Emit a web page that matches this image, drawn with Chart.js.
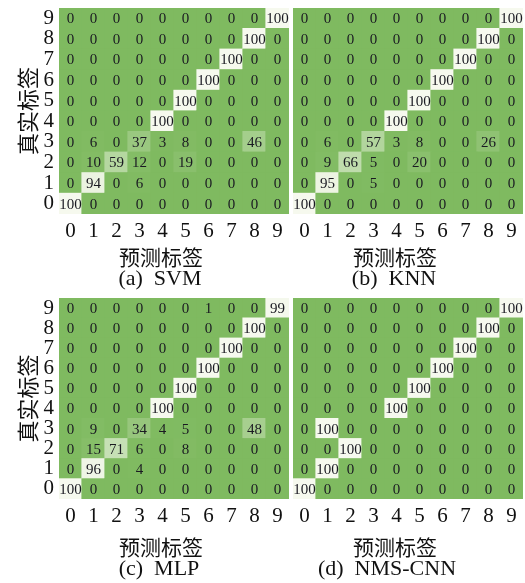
<!DOCTYPE html>
<html>
<head>
<meta charset="utf-8">
<script src="https://cdn.jsdelivr.net/npm/chart.js@4.4.1/dist/chart.umd.min.js"></script>
<style>
    body { margin: 0; background: #fff; }
    #wrap { position: relative; width: 525px; height: 583px; overflow: hidden; }
    canvas { position: absolute; }
    #chartA { left: 0; top: 0; }
    #chartB { left: 290px; top: 0; }
    #chartC { left: 0; top: 290px; }
    #chartD { left: 290px; top: 290px; }
</style>
</head>
<body>
<div id="wrap">
    <canvas id="chartA" width="290" height="290"></canvas>
    <canvas id="chartB" width="235" height="290"></canvas>
    <canvas id="chartC" width="290" height="290"></canvas>
    <canvas id="chartD" width="235" height="290"></canvas>
</div>
<script>
// class labels (true label rows / predicted label columns)
const classLabels = ['0', '1', '2', '3', '4', '5', '6', '7', '8', '9'];

// rows = true label 0..9, columns = predicted label 0..9
const svmMatrix = [
    [100, 0, 0, 0, 0, 0, 0, 0, 0, 0],
    [0, 94, 0, 6, 0, 0, 0, 0, 0, 0],
    [0, 10, 59, 12, 0, 19, 0, 0, 0, 0],
    [0, 6, 0, 37, 3, 8, 0, 0, 46, 0],
    [0, 0, 0, 0, 100, 0, 0, 0, 0, 0],
    [0, 0, 0, 0, 0, 100, 0, 0, 0, 0],
    [0, 0, 0, 0, 0, 0, 100, 0, 0, 0],
    [0, 0, 0, 0, 0, 0, 0, 100, 0, 0],
    [0, 0, 0, 0, 0, 0, 0, 0, 100, 0],
    [0, 0, 0, 0, 0, 0, 0, 0, 0, 100]
];

const knnMatrix = [
    [100, 0, 0, 0, 0, 0, 0, 0, 0, 0],
    [0, 95, 0, 5, 0, 0, 0, 0, 0, 0],
    [0, 9, 66, 5, 0, 20, 0, 0, 0, 0],
    [0, 6, 0, 57, 3, 8, 0, 0, 26, 0],
    [0, 0, 0, 0, 100, 0, 0, 0, 0, 0],
    [0, 0, 0, 0, 0, 100, 0, 0, 0, 0],
    [0, 0, 0, 0, 0, 0, 100, 0, 0, 0],
    [0, 0, 0, 0, 0, 0, 0, 100, 0, 0],
    [0, 0, 0, 0, 0, 0, 0, 0, 100, 0],
    [0, 0, 0, 0, 0, 0, 0, 0, 0, 100]
];

const mlpMatrix = [
    [100, 0, 0, 0, 0, 0, 0, 0, 0, 0],
    [0, 96, 0, 4, 0, 0, 0, 0, 0, 0],
    [0, 15, 71, 6, 0, 8, 0, 0, 0, 0],
    [0, 9, 0, 34, 4, 5, 0, 0, 48, 0],
    [0, 0, 0, 0, 100, 0, 0, 0, 0, 0],
    [0, 0, 0, 0, 0, 100, 0, 0, 0, 0],
    [0, 0, 0, 0, 0, 0, 100, 0, 0, 0],
    [0, 0, 0, 0, 0, 0, 0, 100, 0, 0],
    [0, 0, 0, 0, 0, 0, 0, 0, 100, 0],
    [0, 0, 0, 0, 0, 0, 1, 0, 0, 99]
];

const nmsCnnMatrix = [
    [100, 0, 0, 0, 0, 0, 0, 0, 0, 0],
    [0, 100, 0, 0, 0, 0, 0, 0, 0, 0],
    [0, 0, 100, 0, 0, 0, 0, 0, 0, 0],
    [0, 100, 0, 0, 0, 0, 0, 0, 0, 0],
    [0, 0, 0, 0, 100, 0, 0, 0, 0, 0],
    [0, 0, 0, 0, 0, 100, 0, 0, 0, 0],
    [0, 0, 0, 0, 0, 0, 100, 0, 0, 0],
    [0, 0, 0, 0, 0, 0, 0, 100, 0, 0],
    [0, 0, 0, 0, 0, 0, 0, 0, 100, 0],
    [0, 0, 0, 0, 0, 0, 0, 0, 0, 100]
];

const xTitle = '预测标签';
const yTitle = '真实标签';

const SERIF = '"Liberation Serif", "Times New Roman", serif';
const CJK = '"Noto Sans CJK SC", sans-serif';

// green (0) -> pale cream (100)
const LOW = [127, 186, 96];
const HIGH = [246, 249, 238];
function cellColor(v) {
    const t = Math.pow(v / 100, 1.5);
    const c = LOW.map((lo, i) => Math.round(lo + (HIGH[i] - lo) * t));
    return `rgb(${c[0]}, ${c[1]}, ${c[2]})`;
}

// draws the value inside every cell
const cellTextPlugin = {
    id: 'cellText',
    afterDatasetsDraw(chart, args, opts) {
        const { ctx, scales: { x, y } } = chart;
        ctx.save();
        ctx.font = `15px ${SERIF}`;
        ctx.fillStyle = '#1a1a22';
        ctx.textAlign = 'center';
        ctx.textBaseline = 'middle';
        opts.matrix.forEach((row, r) => {
            row.forEach((v, c) => {
                ctx.fillText(String(v), x.getPixelForValue(c), y.getPixelForValue(r) + 1);
            });
        });
        ctx.restore();
    }
};

// x title + sub-figure caption below the axis
const captionPlugin = {
    id: 'caption',
    afterDraw(chart, args, opts) {
        const { ctx, chartArea } = chart;
        const cx = (chartArea.left + chartArea.right) / 2;
        ctx.save();
        ctx.fillStyle = '#111';
        ctx.textAlign = 'center';
        ctx.textBaseline = 'middle';
        ctx.font = `21px ${CJK}`;
        ctx.fillText(xTitle, cx - 13, 257);
        ctx.font = `22px ${SERIF}`;
        ctx.fillText(opts.text, cx + opts.shift, 279);
        ctx.restore();
    }
};

function buildChart(canvasId, matrix, caption, opts) {
    const datasets = matrix.map((row, r) => ({
        label: classLabels[r],
        data: row.map(() => [r - 0.5, r + 0.5]),
        backgroundColor: (ctx) => cellColor(row[ctx.dataIndex]),
        borderWidth: 0,
        inflateAmount: 0.6,
        barPercentage: 1,
        categoryPercentage: 1,
        grouped: false
    }));

    return new Chart(document.getElementById(canvasId), {
        type: 'bar',
        data: { labels: classLabels, datasets },
        plugins: [cellTextPlugin, captionPlugin],
        options: {
            responsive: false,
            animation: false,
            layout: {
                padding: { left: opts.padLeft, right: opts.padRight, top: opts.padTop, bottom: 0 }
            },
            plugins: {
                legend: { display: false },
                tooltip: { enabled: false },
                cellText: { matrix },
                caption: { text: caption, shift: opts.captionShift }
            },
            scales: {
                x: {
                    type: 'category',
                    grid: { display: false, drawTicks: false },
                    border: { display: false },
                    ticks: {
                        color: '#111',
                        padding: 5,
                        autoSkip: false,
                        font: { family: SERIF, size: 21 },
                        maxRotation: 0
                    },
                    afterFit: (scale) => {
                        scale.height = opts.xAxisHeight;
                        scale.paddingLeft = 0;
                        scale.paddingRight = 0;
                    }
                },
                y: {
                    type: 'linear',
                    display: opts.showY,
                    min: -0.5,
                    max: 9.5,
                    grid: { display: false, drawTicks: false },
                    border: { display: false },
                    afterBuildTicks: (scale) => {
                        scale.ticks = classLabels.map((l, i) => ({ value: i }));
                    },
                    ticks: {
                        color: '#111',
                        padding: 5,
                        autoSkip: false,
                        font: { family: SERIF, size: 21 },
                        callback: (v) => classLabels[v]
                    },
                    title: {
                        display: true,
                        text: yTitle,
                        color: '#111',
                        padding: 0,
                        font: { family: CJK, size: 22 }
                    },
                    afterFit: (scale) => {
                        scale.width = opts.showY ? 45 : 0;
                        scale.paddingTop = 0;
                        scale.paddingBottom = 0;
                    }
                }
            }
        }
    });
}

buildChart('chartA', svmMatrix, '(a)  SVM',
    { padLeft: 14, padRight: 1, padTop: 8, xAxisHeight: 76, showY: true, captionShift: -14 });
buildChart('chartB', knnMatrix, '(b)  KNN',
    { padLeft: 3, padRight: 2, padTop: 8, xAxisHeight: 76, showY: false, captionShift: -14 });
buildChart('chartC', mlpMatrix, '(c)  MLP',
    { padLeft: 14, padRight: 1, padTop: 8, xAxisHeight: 81, showY: true, captionShift: -15 });
buildChart('chartD', nmsCnnMatrix, '(d)  NMS-CNN',
    { padLeft: 3, padRight: 2, padTop: 8, xAxisHeight: 81, showY: false, captionShift: -21 });
</script>
</body>
</html>
